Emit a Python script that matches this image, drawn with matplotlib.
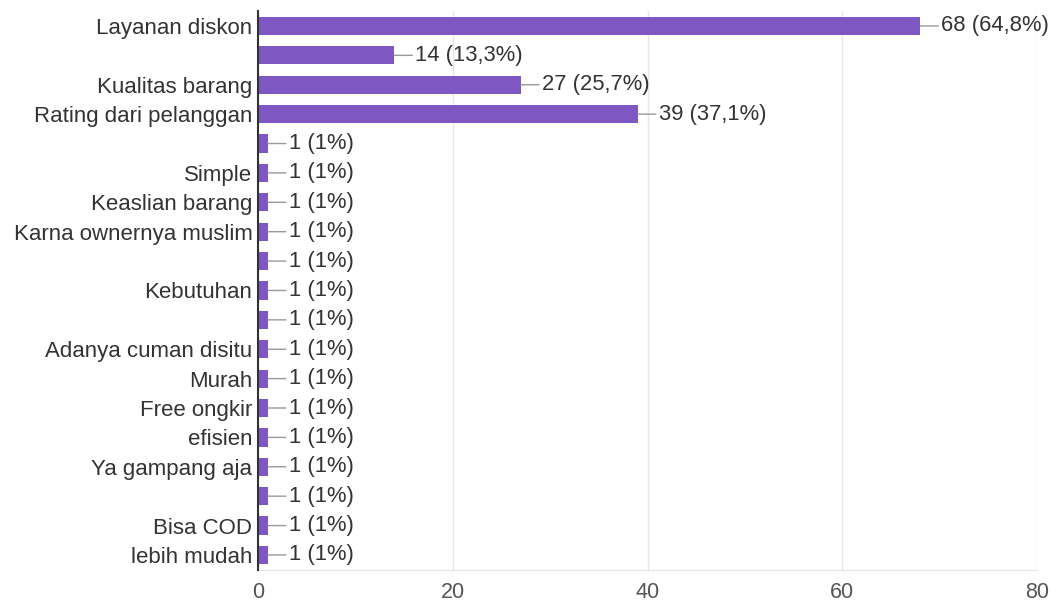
import matplotlib
matplotlib.use('Agg')
import matplotlib.pyplot as plt

# answers (top to bottom), counts and percent labels
labels = ['Layanan diskon', '', 'Kualitas barang', 'Rating dari pelanggan', '',
          'Simple', 'Keaslian barang', 'Karna ownernya muslim', '', 'Kebutuhan',
          '', 'Adanya cuman disitu', 'Murah', 'Free ongkir', 'efisien',
          'Ya gampang aja', '', 'Bisa COD', 'lebih mudah']
counts = [68, 14, 27, 39, 1, 1, 1, 1, 1, 1, 1, 1, 1, 1, 1, 1, 1, 1, 1]
pcts = ['64,8%', '13,3%', '25,7%', '37,1%'] + ['1%'] * 15
xticks = [0, 20, 40, 60, 80]

plt.rcParams['font.family'] = ['Liberation Sans', 'DejaVu Sans']
fig = plt.figure(figsize=(10.6, 6.06), dpi=100)
ax = fig.add_axes([0.2434, 0.06, 0.735, 0.9214])

y = list(range(len(labels)))
ax.barh(y, counts, height=0.62, color='#7e57c2', zorder=3)

for yi, c, p in zip(y, counts, pcts):
    ax.annotate('%d (%s)' % (c, p), xy=(c, yi), xytext=(15, 0),
                textcoords='offset points', va='center', ha='left',
                fontsize=15.8, color='#333333',
                arrowprops=dict(arrowstyle='-', color='#999999', lw=1,
                                shrinkA=0, shrinkB=0))

ax.set_ylim(len(labels) - 0.5, -0.5)
ax.set_xlim(0, 80)
ax.set_xticks(xticks)
ax.set_yticks(y)
ax.set_yticklabels(labels)
ax.tick_params(axis='y', length=0, pad=4, labelsize=16, labelcolor='#333333')
ax.tick_params(axis='x', length=0, pad=9, labelsize=15.5, labelcolor='#555555')
ax.grid(axis='x', color='#e6e6e6', lw=1, zorder=0)
for s in ['top', 'right']:
    ax.spines[s].set_visible(False)
ax.spines['bottom'].set_color('#e6e6e6')
ax.spines['left'].set_color('#333333')
ax.spines['left'].set_linewidth(1.5)
ax.spines['left'].set_zorder(5)

fig.savefig('out.png', dpi=100)
